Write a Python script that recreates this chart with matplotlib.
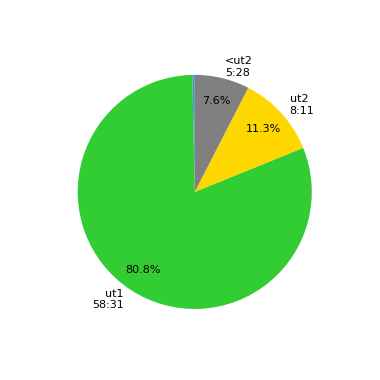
import matplotlib
matplotlib.use("Agg")
import matplotlib.pyplot as plt

labels = ["", "ut1\n58:31", "ut2\n8:11", "<ut2\n5:28"]
seconds = [14, 3511, 491, 328]
colors = ["#4a90d9", "#32cd32", "#ffd700", "#808080"]


def pct(p):
    # hide the label for the tiny slice
    if p < 1:
        return ""
    return "%.1f%%" % p


fig = plt.figure(figsize=(3.8, 3.8), dpi=100)
ax = fig.add_subplot(111)
ax.pie(seconds, labels=labels, colors=colors, autopct=pct, startangle=90,
       pctdistance=0.8, textprops={"fontsize": 8})
ax.set_aspect("equal")
fig.savefig("out.png", dpi=100)
